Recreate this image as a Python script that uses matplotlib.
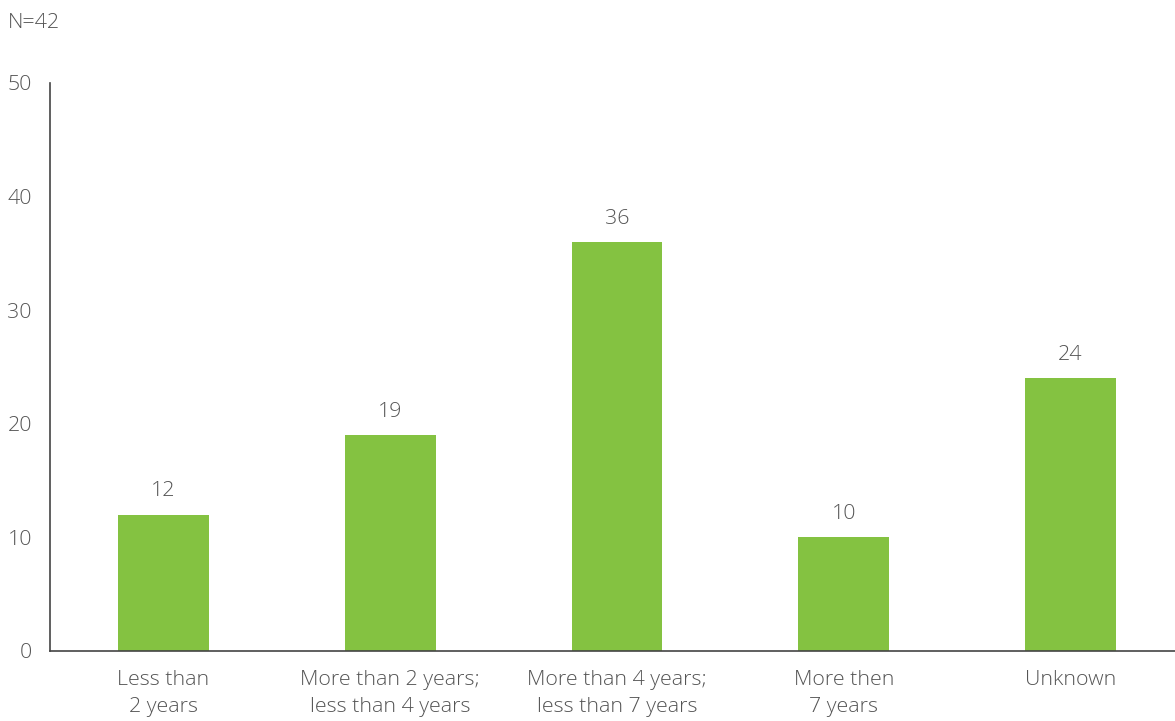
import matplotlib
matplotlib.use("Agg")
import matplotlib.pyplot as plt

categories = ["Less than\n2 years", "More than 2 years;\nless than 4 years",
              "More than 4 years;\nless than 7 years", "More then\n7 years", "Unknown"]
values = [12, 19, 36, 10, 24]
yticks = [0, 10, 20, 30, 40, 50]

plt.rcParams['font.family'] = ['Open Sans', 'DejaVu Sans']
text_color = '#555555'
bar_color = '#84C241'
fs = 15.4

fig = plt.figure(figsize=(11.75, 7.21), dpi=100)
ax = fig.add_axes([50 / 1175, 1 - 651 / 721, 1 - 50 / 1175, (651 - 83) / 721])

x = range(len(values))
ax.bar(x, values, width=0.4, color=bar_color, zorder=2)
for xi, v in zip(x, values):
    ax.annotate(str(v), xy=(xi, v), xytext=(0, 9.5), textcoords='offset points',
                ha='center', va='bottom', fontsize=fs, color=text_color,
                fontweight='light')

ax.set_xlim(-0.5, 4.461)
ax.set_ylim(0, 50)
ax.set_yticks(yticks)
ax.set_yticklabels([str(t) for t in yticks], fontsize=fs, color=text_color,
                   fontweight='light')
ax.set_xticks(list(x))
ax.set_xticklabels(categories, fontsize=fs, color=text_color, fontweight='light',
                   linespacing=1.45)
ax.tick_params(axis='both', length=0)
ax.tick_params(axis='y', pad=13)
ax.tick_params(axis='x', pad=14)

for side in ['top', 'right']:
    ax.spines[side].set_visible(False)
for side in ['left', 'bottom']:
    ax.spines[side].set_color('#444444')
    ax.spines[side].set_linewidth(1.2)

fig.text(8 / 1175, 1 - 13 / 721, "N=42", ha='left', va='top', fontsize=fs,
         color=text_color, fontweight='light')

fig.savefig("out.png", dpi=100)
